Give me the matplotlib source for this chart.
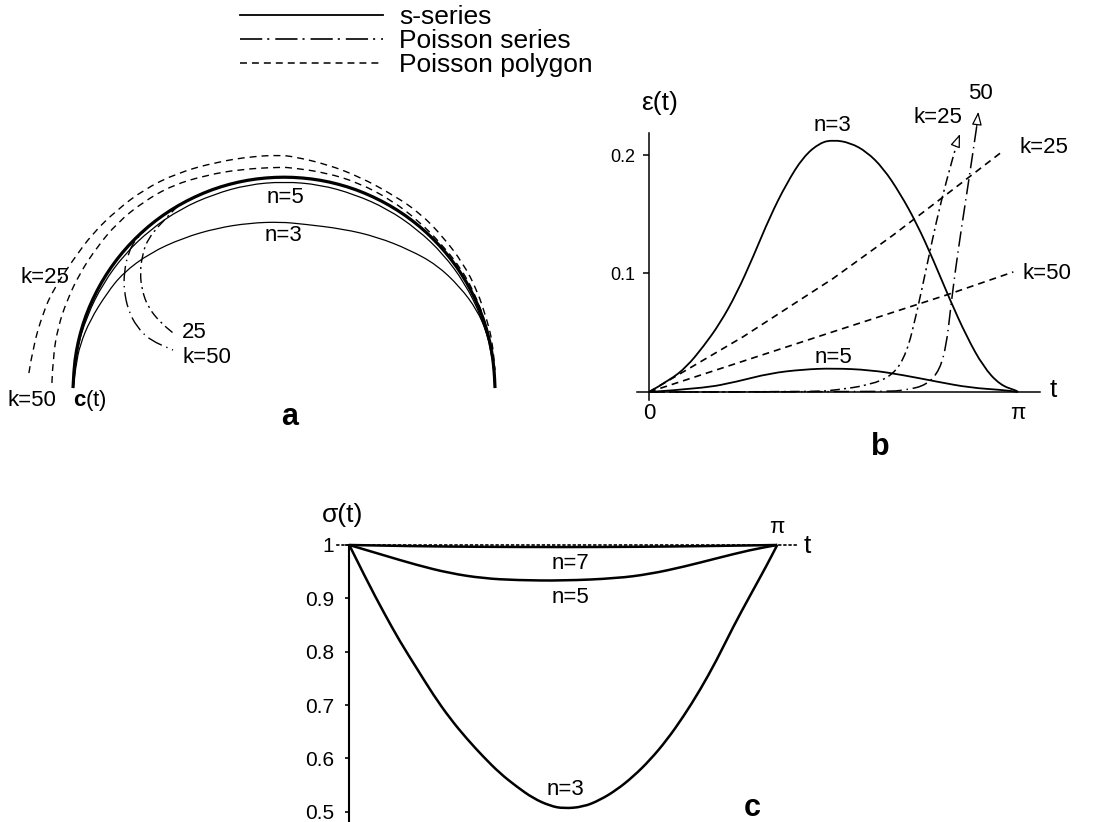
import numpy as np
import matplotlib
matplotlib.use("Agg")
import matplotlib.pyplot as plt
from matplotlib.lines import Line2D
from matplotlib.path import Path
from matplotlib.patches import PathPatch

plt.rcParams['font.family'] = ['Liberation Sans', 'DejaVu Sans']
plt.rcParams['mathtext.fontset'] = 'custom'
plt.rcParams['mathtext.rm'] = 'Liberation Sans'
plt.rcParams['mathtext.bf'] = 'Liberation Sans:bold'
plt.rcParams['lines.scale_dashes'] = False

W, H = 1108, 822

# ---- panel a: curves in the plane (unit = radius of c(t)) ----
a_c_x = [-1.000, -0.996, -0.985, -0.966, -0.940, -0.906, -0.866, -0.819, -0.766, -0.707,
         -0.643, -0.574, -0.500, -0.423, -0.342, -0.259, -0.174, -0.087, 0.000,
         0.087, 0.174, 0.259, 0.342, 0.423, 0.500, 0.574, 0.643, 0.707, 0.766,
         0.819, 0.866, 0.906, 0.940, 0.966, 0.985, 0.996, 1.000]
a_c_y = [0.000, 0.087, 0.174, 0.259, 0.342, 0.423, 0.500, 0.574, 0.643, 0.707,
         0.766, 0.819, 0.866, 0.906, 0.940, 0.966, 0.985, 0.996, 1.000,
         0.996, 0.985, 0.966, 0.940, 0.906, 0.866, 0.819, 0.766, 0.707, 0.643,
         0.574, 0.500, 0.423, 0.342, 0.259, 0.174, 0.087, 0.000]

a_n5_x = [-1.000, -0.985, -0.935, -0.858, -0.756, -0.632, -0.490, -0.334, -0.170, 0.000,
          0.170, 0.334, 0.490, 0.632, 0.756, 0.858, 0.935, 0.985, 1.000]
a_n5_y = [0.000, 0.174, 0.340, 0.495, 0.634, 0.752, 0.849, 0.918, 0.964, 0.978,
          0.964, 0.918, 0.849, 0.752, 0.634, 0.495, 0.340, 0.174, 0.000]

a_n3_x = [-1.000, -0.986, -0.967, -0.919, -0.839, -0.763, -0.635, -0.479, -0.318, -0.161, -0.019,
          0.090, 0.280, 0.441, 0.597, 0.725, 0.834, 0.915, 0.962, 0.991, 1.000]
a_n3_y = [0.000, 0.109, 0.204, 0.322, 0.450, 0.545, 0.640, 0.711, 0.758, 0.782, 0.787,
          0.777, 0.754, 0.716, 0.654, 0.583, 0.479, 0.370, 0.261, 0.147, 0.000]

a_poly25_x = [-1.209, -1.190, -1.142, -1.095, -1.000, -0.905, -0.791, -0.668, -0.507, -0.318,
              -0.147, -0.019, 0.043, 0.204, 0.360, 0.517, 0.645, 0.754, 0.848, 0.915, 0.962,
              0.986, 1.000]
a_poly25_y = [0.071, 0.194, 0.355, 0.464, 0.607, 0.735, 0.844, 0.938, 1.019, 1.071,
              1.098, 1.103, 1.097, 1.060, 1.000, 0.915, 0.829, 0.716, 0.592, 0.464, 0.322,
              0.227, 0.085]

a_poly50_x = [-1.100, -1.095, -1.071, -1.028, -0.967, -0.886, -0.791, -0.668, -0.526, -0.365,
              -0.209, -0.019, 0.043, 0.200, 0.355, 0.510, 0.640, 0.748, 0.840, 0.905, 0.955,
              0.982, 1.000]
a_poly50_y = [0.024, 0.147, 0.289, 0.417, 0.545, 0.668, 0.782, 0.882, 0.962, 1.009,
              1.036, 1.047, 1.043, 1.020, 0.972, 0.890, 0.790, 0.680, 0.565, 0.445, 0.310,
              0.200, 0.050]

a_ser25_x = [-0.500, -0.578, -0.649, -0.673, -0.682, -0.673, -0.645, -0.588, -0.526]
a_ser25_y = [0.866, 0.787, 0.701, 0.621, 0.545, 0.464, 0.384, 0.313, 0.261]

a_ser50_x = [-0.620, -0.697, -0.739, -0.758, -0.758, -0.739, -0.697, -0.635, -0.526]
a_ser50_y = [0.784, 0.716, 0.640, 0.545, 0.464, 0.370, 0.289, 0.227, 0.180]

# ---- panel b: error eps(t) ----
b_t_n3 = [0.0, 0.179, 0.321, 0.462, 0.605, 0.747, 0.888, 1.030, 1.172, 1.314, 1.456, 1.569,
          1.711, 1.853, 1.995, 2.137, 2.279, 2.421, 2.563, 2.705, 2.846, 2.988, 3.130, 3.1416]
b_n3 = [0.0, 0.0101, 0.0213, 0.0382, 0.0580, 0.0833, 0.1143, 0.1480, 0.1761, 0.1985, 0.2104,
        0.2127, 0.2104, 0.2028, 0.1888, 0.1677, 0.1423, 0.1114, 0.0776, 0.0467, 0.0214,
        0.0059, 0.0011, 0.0]

b_t_n5 = [0.0, 0.460, 0.749, 1.030, 1.311, 1.567, 1.882, 2.163, 2.452, 2.733, 3.014, 3.1416]
b_n5 = [0.0, 0.0030, 0.0087, 0.0158, 0.0190, 0.0200, 0.0186, 0.0143, 0.0087, 0.0036, 0.0017, 0.0]

b_t_poly25 = [0.0, 0.803, 1.569, 2.080, 2.563, 3.017]
b_poly25 = [0.0, 0.0467, 0.0959, 0.1325, 0.1690, 0.2036]

b_t_poly50 = [0.0, 1.569, 2.534, 3.102]
b_poly50 = [0.0, 0.0509, 0.0819, 0.1013]

b_t_ser25 = [0.0, 1.40, 1.598, 1.882, 2.080, 2.194, 2.279, 2.364, 2.449, 2.534, 2.634, 2.648]
b_ser25 = [0.0, 0.0, 0.0017, 0.0059, 0.0143, 0.0327, 0.0664, 0.1057, 0.1451, 0.1789, 0.2141, 0.2177]

b_t_ser50 = [0.0, 2.0, 2.194, 2.364, 2.477, 2.534, 2.563, 2.605, 2.662, 2.719, 2.790, 2.804]
b_ser50 = [0.0, 0.0, 0.0017, 0.0059, 0.0186, 0.0411, 0.0664, 0.1002, 0.1395, 0.1761, 0.2239, 0.2365]

b_yticks = [0.1, 0.2]
b_ytick_labels = ['0.1', '0.2']
b_xticks = [0.0, np.pi]
b_xtick_labels = ['0', 'π']

# ---- panel c: sigma(t) ----
c_t_n3 = [0.0, 0.128, 0.250, 0.372, 0.495, 0.617, 0.739, 0.862, 0.984, 1.106, 1.229, 1.351,
          1.474, 1.571, 1.718, 1.841, 1.963, 2.085, 2.208, 2.330, 2.452, 2.575, 2.697, 2.819,
          2.942, 3.065, 3.1416]
c_n3 = [1.0, 0.934, 0.875, 0.819, 0.769, 0.719, 0.675, 0.637, 0.603, 0.572, 0.547, 0.525,
        0.511, 0.506, 0.509, 0.522, 0.541, 0.566, 0.597, 0.634, 0.678, 0.728, 0.784, 0.847,
        0.905, 0.962, 1.0]

c_t_n5 = [0.0, 0.250, 0.495, 0.739, 0.984, 1.229, 1.571, 1.963, 2.208, 2.452, 2.697, 2.942, 3.1416]
c_n5 = [1.0, 0.981, 0.9625, 0.947, 0.9375, 0.934, 0.933, 0.9375, 0.9456, 0.959, 0.975, 0.9906, 1.0]

c_t_n7 = [0.0, 0.5, 1.0, 1.571, 2.1, 2.6, 3.1416]
c_n7 = [1.0, 0.9975, 0.9965, 0.996, 0.9965, 0.9978, 1.0]

c_yticks = [0.5, 0.6, 0.7, 0.8, 0.9, 1.0]
c_ytick_labels = ['0.5', '0.6', '0.7', '0.8', '0.9', '1']


def px_rect(x0, y0, x1, y1):
    return [x0 / W, 1 - y1 / H, (x1 - x0) / W, (y1 - y0) / H]


def curve(ax, x, y, **kw):
    # draw the read points as a smooth quadratic path through the segment midpoints
    pts = list(zip(x, y))
    verts = [pts[0]]
    codes = [Path.MOVETO]
    for i in range(1, len(pts) - 1):
        mid = ((pts[i][0] + pts[i + 1][0]) / 2, (pts[i][1] + pts[i + 1][1]) / 2)
        verts += [pts[i], mid]
        codes += [Path.CURVE3, Path.CURVE3]
    verts.append(pts[-1])
    codes.append(Path.LINETO)
    ax.add_patch(PathPatch(Path(verts, codes), fill=False, edgecolor='k',
                           capstyle='butt', joinstyle='round', **kw))


series25 = (0, (7, 3, 1.5, 3))
series50 = (0, (11, 3.5, 1, 3.5))
polygon = (0, (5, 3.6))

fig = plt.figure(figsize=(W / 100, H / 100), dpi=100)

# panel a
ax_a = fig.add_axes(px_rect(0, 120, 560, 460))
ax_a.set_xlim(-1.346, 1.308)
ax_a.set_ylim(-0.341, 1.270)
ax_a.axis('off')
curve(ax_a, a_poly25_x, a_poly25_y, lw=1.0, ls=polygon)
curve(ax_a, a_poly50_x, a_poly50_y, lw=1.0, ls=polygon)
curve(ax_a, a_ser25_x, a_ser25_y, lw=1.0, ls=series25)
curve(ax_a, a_ser50_x, a_ser50_y, lw=1.0, ls=series50)
curve(ax_a, a_n3_x, a_n3_y, lw=0.9)
curve(ax_a, a_n5_x, a_n5_y, lw=0.9)
curve(ax_a, a_c_x, a_c_y, lw=2.3)

ta = dict(fontsize=16, ha='center', va='center')
ax_a.text(0.005, 0.905, 'n=5', **ta)
ax_a.text(-0.005, 0.725, 'n=3', **ta)
ax_a.text(-1.133, 0.526, 'k=25', **ta)
ax_a.text(-1.194, -0.057, 'k=50', **ta)
ax_a.text(-1.0, -0.057, r'$\mathbf{c}$(t)', fontsize=16, ha='left', va='center')
ax_a.text(-0.483, 0.261, '25', fontsize=16, ha='left', va='center')
ax_a.text(-0.483, 0.147, 'k=50', fontsize=16, ha='left', va='center')
ax_a.text(0.028, -0.137, 'a', fontsize=22, fontweight='bold', ha='center', va='center')

# panel b
ax_b = fig.add_axes(px_rect(600, 80, 1108, 460))
ax_b.set_xlim(-0.417, 3.908)
ax_b.set_ylim(-0.0574, 0.2633)
for s in ['top', 'right']:
    ax_b.spines[s].set_visible(False)
ax_b.spines['left'].set_position(('data', 0))
ax_b.spines['left'].set_bounds(-0.0068, 0.2186)
ax_b.spines['bottom'].set_position(('data', 0))
ax_b.spines['bottom'].set_bounds(-0.102, 3.329)
for s in ['left', 'bottom']:
    ax_b.spines[s].set_linewidth(1.1)
ax_b.set_yticks(b_yticks, b_ytick_labels)
ax_b.set_xticks(b_xticks, b_xtick_labels)
ax_b.tick_params(axis='y', direction='out', length=4, width=1.1, labelsize=13, pad=6)
ax_b.tick_params(axis='x', direction='out', length=0, labelsize=16, pad=8)
ax_b.patch.set_visible(False)

curve(ax_b, b_t_n3, b_n3, lw=1.3)
curve(ax_b, b_t_n5, b_n5, lw=1.3)
ax_b.plot(b_t_poly25, b_poly25, color='k', lw=1.2, ls=polygon)
ax_b.plot(b_t_poly50, b_poly50, color='k', lw=1.2, ls=polygon)
curve(ax_b, b_t_ser25[:-1], b_ser25[:-1], lw=1.1, ls=series25)
curve(ax_b, b_t_ser50[:-1], b_ser50[:-1], lw=1.1, ls=series50)
for tt, ee in [(b_t_ser25, b_ser25), (b_t_ser50, b_ser50)]:
    ax_b.annotate('', xy=(tt[-1], ee[-1]), xytext=(tt[-2], ee[-2]),
                  arrowprops=dict(arrowstyle='-|>,head_length=0.8,head_width=0.3',
                                  fc='white', ec='black', lw=0.9,
                                  shrinkA=0, shrinkB=0))

ax_b.text(0.094, 0.244, 'ε(t)', fontsize=19, ha='center', va='center')
ax_b.text(3.44, 0.0017, 't', fontsize=19, ha='center', va='center')
tb = dict(fontsize=16, ha='center', va='center')
ax_b.text(1.558, 0.2253, 'n=3', **tb)
ax_b.text(1.567, 0.0287, 'n=5', **tb)
ax_b.text(2.461, 0.232, 'k=25', **tb)
ax_b.text(2.818, 0.252, '50', **tb)
ax_b.text(3.363, 0.206, 'k=25', **tb)
ax_b.text(3.389, 0.100, 'k=50', **tb)
ax_b.text(1.967, -0.0464, 'b', fontsize=22, fontweight='bold', ha='center', va='center')

# panel c
ax_c = fig.add_axes(px_rect(290, 495, 830, 822))
ax_c.set_xlim(-0.435, 3.529)
ax_c.set_ylim(0.4807, 1.0937)
for s in ['top', 'right']:
    ax_c.spines[s].set_visible(False)
ax_c.spines['left'].set_position(('data', 0))
ax_c.spines['left'].set_bounds(0.48, 1.0)
ax_c.spines['left'].set_linewidth(1.5)
ax_c.spines['bottom'].set_position(('data', 1.0))
ax_c.spines['bottom'].set_bounds(-0.09, 3.29)
ax_c.spines['bottom'].set_linestyle((0, (1.2, 2.5)))
ax_c.spines['bottom'].set_linewidth(1.2)
ax_c.set_xticks([])
ax_c.set_yticks(c_yticks, c_ytick_labels)
ax_c.tick_params(axis='y', direction='out', length=3, width=1.2, labelsize=15, pad=8)
ax_c.patch.set_visible(False)

curve(ax_c, c_t_n3, c_n3, lw=1.8)
curve(ax_c, c_t_n5, c_n5, lw=1.8)
curve(ax_c, c_t_n7, c_n7, lw=1.8)

ax_c.text(-0.046, 1.056, 'σ(t)', fontsize=19, ha='center', va='center')
ax_c.text(np.pi, 1.032, 'π', fontsize=16, ha='center', va='center')
ax_c.text(3.36, 0.998, 't', fontsize=19, ha='center', va='center')
tc = dict(fontsize=16, ha='center', va='center')
ax_c.text(1.621, 0.966, 'n=7', **tc)
ax_c.text(1.621, 0.901, 'n=5', **tc)
ax_c.text(1.585, 0.541, 'n=3', **tc)
ax_c.text(2.957, 0.507, 'c', fontsize=22, fontweight='bold', ha='center', va='center')

# legend
handles = [Line2D([], [], color='k', lw=1.3),
           Line2D([], [], color='k', lw=1.2, ls=(0, (16, 3.6, 1.5, 4.3))),
           Line2D([], [], color='k', lw=1.1, ls=polygon)]
fig.legend(handles, ['s-series', 'Poisson series', 'Poisson polygon'],
           loc='upper left', bbox_to_anchor=(240 / W, 1 - 5 / H), frameon=False,
           fontsize=19, handlelength=5.4, handletextpad=0.64, labelspacing=0.0,
           borderpad=0, borderaxespad=0)

fig.savefig('out.png', dpi=100)
